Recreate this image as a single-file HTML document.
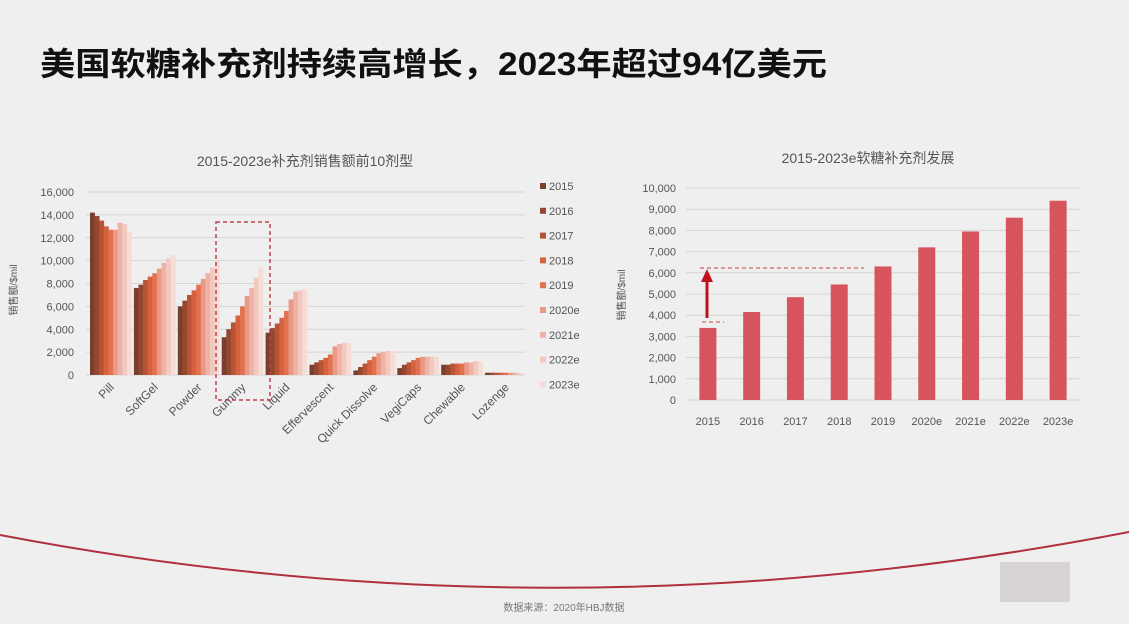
<!DOCTYPE html>
<html><head><meta charset="utf-8"><style>
html,body{margin:0;padding:0;background:#efefef;}
svg{display:block;font-family:"Liberation Sans","Noto Sans CJK SC",sans-serif;}
</style></head><body>
<svg id="s" width="1129" height="624" viewBox="0 0 1129 624" xmlns="http://www.w3.org/2000/svg">
<rect x="0" y="0" width="1129" height="624" fill="#efefef"/>
<text x="40" y="75" font-size="32" font-weight="bold" fill="#111" textLength="787" lengthAdjust="spacingAndGlyphs">美国软糖补充剂持续高增长，2023年超过94亿美元</text>
<text x="305" y="166" font-size="14" fill="#555" text-anchor="middle">2015-2023e补充剂销售额前10剂型</text>
<text x="868" y="163" font-size="14" fill="#555" text-anchor="middle">2015-2023e软糖补充剂发展</text>
<g id="left"></g>
<g id="right"></g>
<path d="M0,535 Q560,642 1129,532" fill="none" stroke="#b03040" stroke-width="2"/>
<text x="564" y="611" font-size="10" fill="#777" text-anchor="middle">数据来源：2020年HBJ数据</text>
<rect x="1000" y="562" width="70" height="40" fill="#c8bfc0" opacity="0.6"/>
</svg>
<script>
const NS="http://www.w3.org/2000/svg";
const categories=["Pill","SoftGel","Powder","Gummy","Liquid","Effervescent","Quick Dissolve","VegiCaps","Chewable","Lozenge"];
const years=["2015","2016","2017","2018","2019","2020e","2021e","2022e","2023e"];
const s2015=[14200,7600,6000,3300,3700,900,400,600,900,200];
const s2016=[13900,7900,6500,4000,4100,1100,700,900,900,200];
const s2017=[13500,8300,7000,4600,4500,1300,1000,1100,1000,200];
const s2018=[13000,8600,7400,5200,5000,1500,1300,1300,1000,200];
const s2019=[12700,8900,7900,6000,5600,1800,1600,1500,1000,200];
const s2020=[12700,9300,8400,6900,6600,2500,1900,1600,1100,200];
const s2021=[13300,9800,8900,7600,7300,2700,2000,1600,1100,200];
const s2022=[13200,10200,9400,8500,7400,2800,2100,1600,1200,150];
const s2023=[12500,10500,10000,9400,7500,2800,2100,1600,1200,100];
const seriesL=[s2015,s2016,s2017,s2018,s2019,s2020,s2021,s2022,s2023];
const leftTicks=[0,2000,4000,6000,8000,10000,12000,14000,16000];
const gummyYears=["2015","2016","2017","2018","2019","2020e","2021e","2022e","2023e"];
const gummyValues=[3400,4150,4850,5450,6300,7200,7950,8600,9400];
const rightTicks=[0,1000,2000,3000,4000,5000,6000,7000,8000,9000,10000];
const colors=["#7a3f2c","#95482f","#b85436","#d5623e","#e3714f","#e89a86","#eeb3a6","#f2c8bf","#f6dcd5"];
function el(t,a,p){const e=document.createElementNS(NS,t);for(const k in a)e.setAttribute(k,a[k]);p.appendChild(e);return e;}
// left chart
const L=document.getElementById("left");
const lx0=86,lx1=525,ly0=375,ly1=192;
const ly=v=>ly0-(v/16000)*(ly0-ly1);
const gw=(lx1-lx0)/categories.length;
leftTicks.forEach(t=>{
 const g=el("line",{x1:lx0,x2:lx1,y1:ly(t),y2:ly(t),stroke:"#d4d4d4","stroke-width":1},L);
 
 
 const tx=el("text",{x:74,y:ly(t)+4,"font-size":11,fill:"#555","text-anchor":"end"},L);
 tx.textContent=t.toLocaleString("en-US");
 
 
});
const yt=el("text",{x:0,y:0,"font-size":10,fill:"#555","text-anchor":"middle",transform:"translate(17,290) rotate(-90)"},L);
yt.textContent="销售额/$mil";


const bw=4.6;
categories.forEach((c,i)=>{
 const gx=lx0+4+i*gw;
 seriesL.forEach((sr,j)=>{
  const v=sr[i];
  const r=el("rect",{x:gx+j*bw,y:ly(v),width:bw+0.3,height:ly0-ly(v),fill:colors[j]},L);
  
  
 });
 const cx=gx+bw*4.5+4;
 const lt=el("text",{x:cx,y:388,"font-size":12,fill:"#555","text-anchor":"end",transform:`rotate(-45 ${cx} 388)`},L);
 lt.textContent=c;
 
 
});
const box=el("rect",{x:216,y:222,width:54,height:178,fill:"none",stroke:"#c0404a","stroke-width":1.5,"stroke-dasharray":"4,3"},L);


years.forEach((y,j)=>{
 const yy=188+j*24.8;
 const sq=el("rect",{x:540,y:yy-5,width:6,height:6,fill:colors[j]},L);
 
 
 const t=el("text",{x:549,y:yy+2,"font-size":11,fill:"#555"},L);
 t.textContent=y;
 
 
});
// right chart
const R=document.getElementById("right");
const rx0=686,rx1=1080,ry0=400,ry1=188;
const ry=v=>ry0-(v/10000)*(ry0-ry1);
const rw=(rx1-rx0)/gummyYears.length;
rightTicks.forEach(t=>{
 const g=el("line",{x1:rx0,x2:rx1,y1:ry(t),y2:ry(t),stroke:"#d4d4d4","stroke-width":1},R);
 
 
 const tx=el("text",{x:676,y:ry(t)+4,"font-size":11,fill:"#555","text-anchor":"end"},R);
 tx.textContent=t.toLocaleString("en-US");
 
 
});
const yt2=el("text",{x:0,y:0,"font-size":10,fill:"#555","text-anchor":"middle",transform:"translate(625,295) rotate(-90)"},R);
yt2.textContent="销售额/$mil";


gummyYears.forEach((y,i)=>{
 const cx=rx0+rw*(i+0.5);
 const v=gummyValues[i];
 const r=el("rect",{x:cx-8.5,y:ry(v),width:17,height:ry0-ry(v),fill:"#d8545d"},R);
 
 
 const t=el("text",{x:cx,y:425,"font-size":11,fill:"#555","text-anchor":"middle"},R);
 t.textContent=y;
 
 
});
const d1=el("line",{x1:700,x2:864,y1:268,y2:268,stroke:"#c0404a","stroke-width":1,"stroke-dasharray":"4,3"},R);


const d2=el("line",{x1:702,x2:724,y1:322,y2:322,stroke:"#c0404a","stroke-width":1,"stroke-dasharray":"4,3"},R);


const ar=el("path",{d:"M705.5,318 L705.5,282 L701,282 L707,269 L713,282 L708.5,282 L708.5,318 Z",fill:"#c0101c"},R);


</script>
</body></html>
